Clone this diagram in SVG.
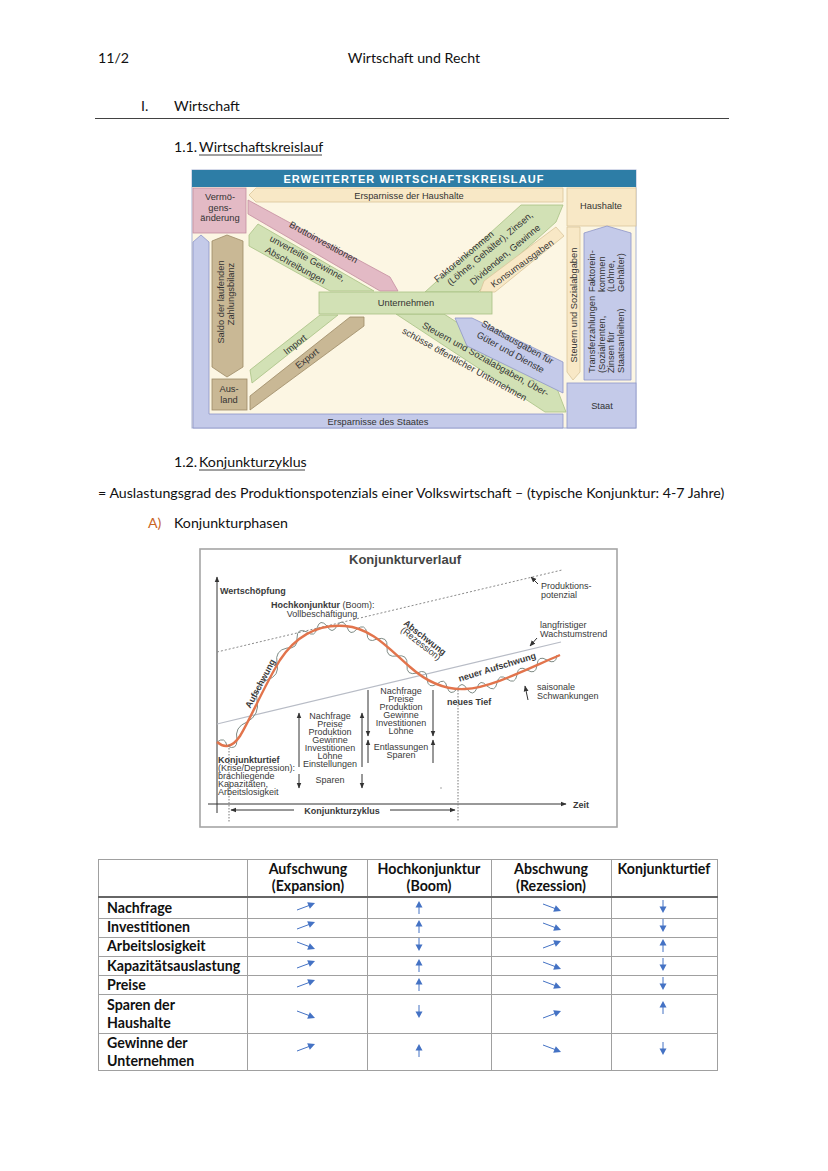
<svg xmlns="http://www.w3.org/2000/svg" width="828" height="1171" viewBox="0 0 828 1171">
<style>
.doc{font-family:Lato,"Open Sans","Liberation Sans",sans-serif;fill:#111;font-size:14.2px}
.b{font-weight:bold}
.kl{font-family:"Liberation Sans",Arial,sans-serif;font-size:9.3px;fill:#333}
.ch{font-family:"Liberation Sans",Arial,sans-serif;font-size:9px;fill:#3a3a3a}
.pink{fill:#e3bac5;stroke:#c48ea0;stroke-width:.8}
.cream{fill:#f8e8c6;stroke:#d9c59b;stroke-width:.8}
.green{fill:#d2e1b5;stroke:#a8c184;stroke-width:.8}
.tan{fill:#c9b895;stroke:#9d8a66;stroke-width:.8}
.blue{fill:#c4cae9;stroke:#8e96c8;stroke-width:.8}
.grid{stroke:#a0a0a0;stroke-width:1;fill:none}
.ax{stroke:#333;stroke-width:1;fill:none}
</style>
<defs>
<marker id="ah" viewBox="0 0 10 10" refX="9" refY="5" markerWidth="6" markerHeight="6" orient="auto-start-reverse"><path d="M0,1 L10,5 L0,9z" fill="#333"/></marker>
<g id="ur"><line x1="-9" y1="3" x2="3" y2="-1.5" stroke="#4472c4" stroke-width="1"/><polygon points="9,-4 1.2,-4.8 3.8,1.8" fill="#4472c4"/></g>
<g id="dr"><line x1="-9" y1="-3" x2="3" y2="1.5" stroke="#4472c4" stroke-width="1"/><polygon points="9,4 1.2,4.8 3.8,-1.8" fill="#4472c4"/></g>
<g id="up"><line x1="0" y1="7" x2="0" y2="0" stroke="#4472c4" stroke-width="1"/><polygon points="0,-6 -3.5,0.5 3.5,0.5" fill="#4472c4"/></g>
<g id="dn"><line x1="0" y1="-7" x2="0" y2="0" stroke="#4472c4" stroke-width="1"/><polygon points="0,6 -3.5,-0.5 3.5,-0.5" fill="#4472c4"/></g>
</defs>

<!-- Header -->
<g id="header">
<text class="doc" x="98" y="63">11/2</text>
<text class="doc" x="414" y="63" text-anchor="middle">Wirtschaft und Recht</text>
<text class="doc" x="141" y="111">I.</text>
<text class="doc" x="174" y="111">Wirtschaft</text>
<line x1="95" y1="118.5" x2="729" y2="118.5" stroke="#111" stroke-width="0.8"/>
<text class="doc" x="174" y="152">1.1.</text>
<text class="doc" x="199" y="152">Wirtschaftskreislauf</text>
<line x1="199" y1="155" x2="322" y2="155" stroke="#111" stroke-width="0.8"/>
</g>

<!-- Wirtschaftskreislauf -->
<g id="kreislauf">
<rect x="192" y="170" width="444" height="258" fill="#fcf6e3" stroke="#a9b4d4" stroke-width="1"/>
<rect x="192" y="170" width="444" height="17" fill="#2d7da6"/>
<text x="414" y="183" text-anchor="middle" font-family="Liberation Sans,Arial,sans-serif" font-weight="bold" font-size="11" letter-spacing="1.1" fill="#fff">ERWEITERTER  WIRTSCHAFTSKREISLAUF</text>

<g id="n-frame"><polygon class="blue" points="201,235 209,242 209,414 563,414 563,428 193,428 193,242"/>
<text class="kl" x="378" y="425" text-anchor="middle">Ersparnisse des Staates</text></g>

<g id="n-vermoegen"><rect class="pink" x="193" y="188" width="53" height="45"/>
<text class="kl" x="220" y="200" text-anchor="middle">Vermö-</text>
<text class="kl" x="220" y="210.5" text-anchor="middle">gens-</text>
<text class="kl" x="220" y="221" text-anchor="middle">änderung</text></g>

<g id="n-ersparnisHH"><polygon class="cream" points="249,195 256,188 563,188 563,202 256,202"/>
<text class="kl" x="409" y="198.5" text-anchor="middle">Ersparnisse der Haushalte</text></g>

<g id="n-haushalte"><rect class="cream" x="567" y="188" width="69" height="38"/>
<text class="kl" x="601" y="209" text-anchor="middle">Haushalte</text></g>

<g id="n-saldo"><polygon class="tan" points="227,235 243,241 243,367 227,377 212,367 212,241"/>
<text class="kl" transform="translate(224,302) rotate(-90)" text-anchor="middle">Saldo der laufenden</text>
<text class="kl" transform="translate(234,294) rotate(-90)" text-anchor="middle">Zahlungsbilanz</text></g>

<g id="n-ausland"><rect class="tan" x="212" y="379" width="35" height="31"/>
<text class="kl" x="229" y="392" text-anchor="middle">Aus-</text>
<text class="kl" x="229" y="403" text-anchor="middle">land</text></g>

<g id="n-brutto"><polygon class="pink" points="248,200 390,277 398,291 380,291 248,214"/>
<text class="kl" transform="translate(322,245) rotate(29)" text-anchor="middle">Bruttoinvestitionen</text></g>

<g id="n-unverteilt"><polygon class="green" points="249,235 258,224 374,291 330,291 249,246"/>
<text class="kl" transform="translate(306,261) rotate(29)" text-anchor="middle">unverteilte Gewinne,</text>
<text class="kl" transform="translate(294,268) rotate(29)" text-anchor="middle">Abschreibungen</text></g>

<g id="n-faktor"><polygon class="green" points="425,292 521,205 563,205 556,222 478,292"/>
<text class="kl" transform="translate(466,259) rotate(-40)" text-anchor="middle">Faktoreinkommen</text>
<text class="kl" transform="translate(492,251) rotate(-40)" text-anchor="middle">(Löhne, Gehälter), Zinsen,</text>
<text class="kl" transform="translate(507,257) rotate(-40)" text-anchor="middle">Dividenden, Gewinne</text></g>

<g id="n-konsum"><polygon class="cream" points="556,227 564,236 495,292 480,292 484,281"/>
<text class="kl" transform="translate(524,266) rotate(-36)" text-anchor="middle">Konsumausgaben</text></g>

<g id="n-steuernV"><polygon class="cream" points="567,227 580,227 580,372 573,380 567,372"/>
<text class="kl" transform="translate(577,305) rotate(-90)" text-anchor="middle">Steuern und Sozialabgaben</text></g>

<g id="n-transfer"><polygon class="blue" points="607,226 631,233 631,380 584,380 584,233"/>
<g class="kl" font-size="8.6">
<text transform="translate(595,373) rotate(-90)">Transferzahlungen</text>
<text transform="translate(604.5,373) rotate(-90)">(Sozialrenten,</text>
<text transform="translate(614,373) rotate(-90)">Zinsen für</text>
<text transform="translate(623.5,373) rotate(-90)">Staatsanleihen)</text>
<text transform="translate(595,292) rotate(-90)">Faktorein-</text>
<text transform="translate(604.5,292) rotate(-90)">kommen</text>
<text transform="translate(614,292) rotate(-90)">(Löhne,</text>
<text transform="translate(623.5,292) rotate(-90)">Gehälter)</text>
</g></g>

<g id="n-staat"><rect class="blue" x="567" y="383" width="69" height="45"/>
<text class="kl" x="602" y="409" text-anchor="middle">Staat</text></g>

<g id="n-steuernD"><polygon class="green" points="396,314 444,314 556,386 566,412 545,412"/>
<text class="kl" transform="translate(484,362) rotate(29)" text-anchor="middle">Steuern und Sozialabgaben, Über-</text>
<text class="kl" transform="translate(463,367) rotate(29)" text-anchor="middle">schüsse öffentlicher Unternehmen</text></g>

<g id="n-staatsausgaben"><polygon class="blue" points="455,318 472,318 563,362 563,393 467,346"/>
<text class="kl" transform="translate(516,345) rotate(29)" text-anchor="middle">Staatsausgaben für</text>
<text class="kl" transform="translate(509,355) rotate(29)" text-anchor="middle">Güter und Dienste</text></g>

<g id="n-import"><polygon class="green" points="250,370 320,315 338,315 252,383"/>
<text class="kl" transform="translate(297,347) rotate(-38)" text-anchor="middle">Import</text></g>

<g id="n-export"><polygon class="tan" points="250,396 350,317 364,317 364,326 250,410"/>
<text class="kl" transform="translate(309,361) rotate(-38)" text-anchor="middle">Export</text></g>

<g id="n-unternehmen"><rect class="green" x="319" y="292" width="173" height="22"/>
<text class="kl" x="406" y="306" text-anchor="middle">Unternehmen</text></g>
</g>

<!-- Section 1.2 -->
<g id="sec12">
<text class="doc" x="174" y="467">1.2.</text>
<text class="doc" x="199" y="467">Konjunkturzyklus</text>
<line x1="199" y1="470" x2="305" y2="470" stroke="#111" stroke-width="0.8"/>
<text class="doc" x="98" y="498">= Auslastungsgrad des Produktionspotenzials einer Volkswirtschaft – (typische Konjunktur: 4-7 Jahre)</text>
<text class="doc" x="148" y="528" style="fill:#c9651f">A)</text>
<text class="doc" x="174" y="528">Konjunkturphasen</text>
</g>

<!-- Konjunkturverlauf chart -->
<g id="chart">
<rect x="200" y="549" width="417" height="278" fill="#fff" stroke="#a5a5a5" stroke-width="1.6"/>
<text x="405" y="564" text-anchor="middle" font-family="Liberation Sans,Arial,sans-serif" font-weight="bold" font-size="13" fill="#444">Konjunkturverlauf</text>
<line class="ax" x1="217" y1="813" x2="217" y2="577" marker-end="url(#ah)"/>
<line class="ax" x1="208" y1="804" x2="566" y2="804" marker-end="url(#ah)"/>
<text class="ch" x="220" y="594" font-weight="bold" font-size="10.5">Wertschöpfung</text>
<text class="ch" x="573" y="808" font-weight="bold" font-size="11">Zeit</text>
<line x1="217" y1="652" x2="562" y2="570" stroke="#8a8a8a" stroke-width="1" stroke-dasharray="2,2"/>
<line x1="217" y1="724" x2="561" y2="642" stroke="#b8bcc6" stroke-width="1.2"/>
<path d="M217,742 Q225,736 227,746 Q237,751 237,740 Q234,727 247,722 Q260,715 257,700 Q254,686 267,680 Q280,676 277,663 Q274.5,650.5 287,648 Q298,649 297,638 Q297,627 307,632 Q315,638 317,628 Q320,618 327,626 Q332,635 337,626 Q342,617.5 347,627 Q350,637 357,629 Q365,623 367,633 Q367,644 377,639 Q388,636 387,647 Q386,658 397,656 Q408,654 407,665 Q406,676 417,673 Q427,668 427,679 Q428,689.5 437,684 Q445,677 447,687 Q450,697 457,689 Q462,680 467,689 Q473,697.5 477,688 Q480,678 487,686 Q495,693 497,683 Q499,673 507,679 Q515,685 517,675 Q518,664.5 527,670 Q536,675.5 537,665 Q538,654.5 547,660 Q556,665.5 557,655" fill="none" stroke="#7f8c86" stroke-width="1"/>
<path d="M217,742 C224,748 232,748 240,736 C250,720 262,690 280,660 C296,636 318,624 345,626 C372,628 390,650 410,667 C428,683 445,690 465,689 C490,688 525,670 560,655" fill="none" stroke="#e2744c" stroke-width="2.4"/>
<line x1="229" y1="745" x2="229" y2="822" stroke="#777" stroke-width="1" stroke-dasharray="1.5,1.5"/>
<line x1="458" y1="690" x2="458" y2="822" stroke="#777" stroke-width="1" stroke-dasharray="1.5,1.5"/>
<line class="ax" x1="294" y1="810" x2="231" y2="810" marker-end="url(#ah)"/>
<line class="ax" x1="390" y1="810" x2="455" y2="810" marker-end="url(#ah)"/>
<text class="ch" x="342" y="814" text-anchor="middle" font-weight="bold" font-size="12">Konjunkturzyklus</text>
<text class="ch" x="271" y="608" font-size="8.3"><tspan font-weight="bold">Hochkonjunktur</tspan> (Boom):</text>
<text class="ch" x="322" y="617" text-anchor="middle" font-size="8.3">Vollbeschäftigung</text>
<text class="ch" x="541" y="589">Produktions-</text>
<text class="ch" x="541" y="598">potenzial</text>
<line class="ax" x1="538" y1="584" x2="531" y2="577" marker-end="url(#ah)"/>
<text class="ch" x="540" y="628">langfristiger</text>
<text class="ch" x="540" y="637">Wachstumstrend</text>
<line class="ax" x1="537" y1="638" x2="530" y2="646" marker-end="url(#ah)"/>
<text class="ch" x="537" y="690">saisonale</text>
<text class="ch" x="537" y="699">Schwankungen</text>
<line class="ax" x1="528" y1="700" x2="525" y2="686" marker-end="url(#ah)"/>
<text class="ch" x="447" y="705" font-weight="bold" font-size="7.5">neues Tief</text>
<text class="ch" transform="translate(263,685) rotate(-62)" text-anchor="middle" font-weight="bold" font-size="7">Aufschwung</text>
<text class="ch" transform="translate(423,640) rotate(38)" text-anchor="middle" font-weight="bold" font-size="7">Abschwung</text>
<text class="ch" transform="translate(419,646) rotate(38)" text-anchor="middle" font-size="6">(Rezession)</text>
<text class="ch" transform="translate(498,670) rotate(-17)" text-anchor="middle" font-weight="bold" font-size="7.5">neuer Aufschwung</text>
<text class="ch" x="218" y="763" font-weight="bold" font-size="7.5">Konjunkturtief</text>
<text class="ch" x="218" y="771">(Krise/Depression):</text>
<text class="ch" x="218" y="779">brachliegende</text>
<text class="ch" x="218" y="787">Kapazitäten,</text>
<text class="ch" x="218" y="795">Arbeitslosigkeit</text>
<g text-anchor="middle">
<text class="ch" x="330" y="719">Nachfrage</text>
<text class="ch" x="330" y="727">Preise</text>
<text class="ch" x="330" y="735">Produktion</text>
<text class="ch" x="330" y="743">Gewinne</text>
<text class="ch" x="330" y="751">Investitionen</text>
<text class="ch" x="330" y="759">Löhne</text>
<text class="ch" x="330" y="767">Einstellungen</text>
<text class="ch" x="330" y="783">Sparen</text>
<text class="ch" x="401" y="694">Nachfrage</text>
<text class="ch" x="401" y="702">Preise</text>
<text class="ch" x="401" y="710">Produktion</text>
<text class="ch" x="401" y="718">Gewinne</text>
<text class="ch" x="401" y="726">Investitionen</text>
<text class="ch" x="401" y="734">Löhne</text>
<text class="ch" x="401" y="750">Entlassungen</text>
<text class="ch" x="401" y="758">Sparen</text>
</g>
<line class="ax" x1="299" y1="767" x2="299" y2="713" marker-end="url(#ah)"/>
<line class="ax" x1="362" y1="767" x2="362" y2="713" marker-end="url(#ah)"/>
<line class="ax" x1="299" y1="774" x2="299" y2="788" marker-end="url(#ah)"/>
<line class="ax" x1="362" y1="774" x2="362" y2="788" marker-end="url(#ah)"/>
<line class="ax" x1="368" y1="690" x2="368" y2="736" marker-end="url(#ah)"/>
<line class="ax" x1="433" y1="690" x2="433" y2="736" marker-end="url(#ah)"/>
<line class="ax" x1="368" y1="763" x2="368" y2="740" marker-end="url(#ah)"/>
<line class="ax" x1="433" y1="763" x2="433" y2="740" marker-end="url(#ah)"/>
<circle cx="441" cy="788" r="0.8" fill="#999"/>
</g>

<!-- Table -->
<g id="table">
<rect class="grid" x="98.5" y="859.5" width="619" height="211"/>
<g class="grid">
<line x1="247.5" y1="859" x2="247.5" y2="1071"/>
<line x1="367.5" y1="859" x2="367.5" y2="1071"/>
<line x1="491.5" y1="859" x2="491.5" y2="1071"/>
<line x1="611.5" y1="859" x2="611.5" y2="1071"/>
<line x1="98" y1="918.5" x2="718" y2="918.5"/>
<line x1="98" y1="937.5" x2="718" y2="937.5"/>
<line x1="98" y1="956.5" x2="718" y2="956.5"/>
<line x1="98" y1="975.5" x2="718" y2="975.5"/>
<line x1="98" y1="994.5" x2="718" y2="994.5"/>
<line x1="98" y1="1033.5" x2="718" y2="1033.5"/>
</g>
<line x1="98" y1="897" x2="718" y2="897" stroke="#666" stroke-width="2.2"/>
<g class="doc b" text-anchor="middle">
<text x="308" y="874">Aufschwung</text>
<text x="308" y="891">(Expansion)</text>
<text x="429" y="874">Hochkonjunktur</text>
<text x="429" y="891">(Boom)</text>
<text x="551" y="874">Abschwung</text>
<text x="551" y="891">(Rezession)</text>
<text x="664" y="874">Konjunkturtief</text>
</g>
<g class="doc b">
<text x="107" y="913">Nachfrage</text>
<text x="107" y="932">Investitionen</text>
<text x="107" y="951">Arbeitslosigkeit</text>
<text x="107" y="971">Kapazitätsauslastung</text>
<text x="107" y="990">Preise</text>
<text x="107" y="1010">Sparen der</text>
<text x="107" y="1028">Haushalte</text>
<text x="107" y="1048">Gewinne der</text>
<text x="107" y="1066">Unternehmen</text>
</g>
<use href="#ur" x="306" y="907"/><use href="#up" x="419" y="907"/><use href="#dr" x="552" y="907"/><use href="#dn" x="663" y="907"/>
<use href="#ur" x="306" y="926"/><use href="#up" x="419" y="926"/><use href="#dr" x="552" y="926"/><use href="#dn" x="663" y="926"/>
<use href="#dr" x="306" y="945"/><use href="#dn" x="419" y="945"/><use href="#ur" x="552" y="945"/><use href="#up" x="663" y="945"/>
<use href="#ur" x="306" y="965"/><use href="#up" x="419" y="965"/><use href="#dr" x="552" y="965"/><use href="#dn" x="663" y="965"/>
<use href="#ur" x="306" y="984"/><use href="#up" x="419" y="984"/><use href="#dr" x="552" y="984"/><use href="#dn" x="663" y="984"/>
<use href="#dr" x="306" y="1014"/><use href="#dn" x="419" y="1012"/><use href="#ur" x="552" y="1015"/><use href="#up" x="663" y="1007"/>
<use href="#ur" x="306" y="1048"/><use href="#up" x="419" y="1050"/><use href="#dr" x="552" y="1048"/><use href="#dn" x="663" y="1049"/>
</g>
</svg>
